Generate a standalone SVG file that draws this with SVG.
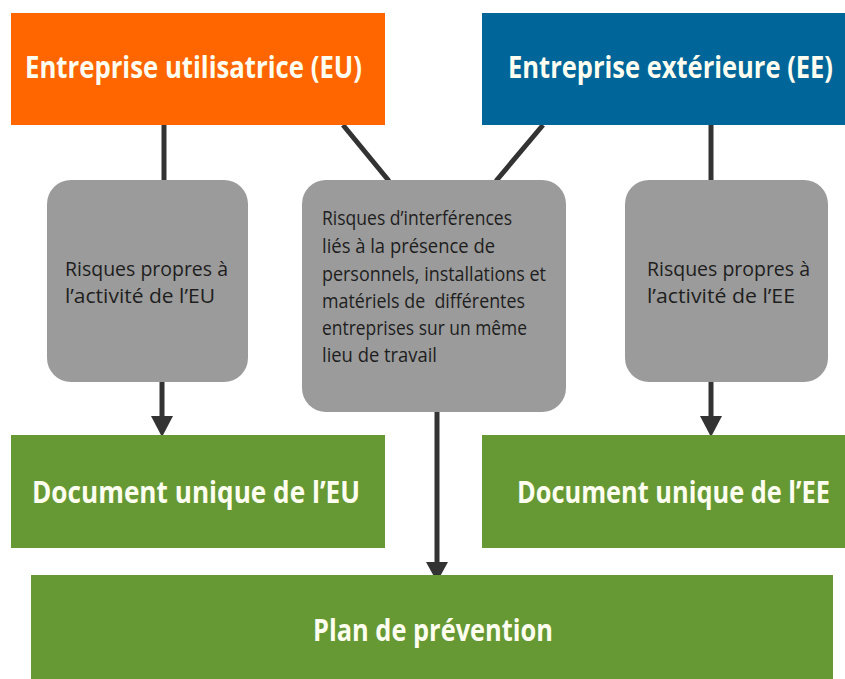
<svg xmlns="http://www.w3.org/2000/svg" width="845" height="679" viewBox="0 0 845 679">
<defs>
<style>
.t{font-family:"Open Sans","DejaVu Sans",sans-serif;font-weight:bold;fill:#fdfdf0;font-size:31px}
.g{font-family:"Open Sans","DejaVu Sans",sans-serif;fill:#1e1e1e;font-size:20.5px}
.ln{stroke:#333;stroke-width:5;fill:none}
</style>
</defs>
<rect width="845" height="679" fill="#ffffff"/>
<g id="connectors">
<line class="ln" x1="164" y1="125" x2="164" y2="182"/>
<line class="ln" x1="343" y1="125" x2="389" y2="181"/>
<line class="ln" x1="543" y1="125" x2="496" y2="181"/>
<line class="ln" x1="711" y1="125" x2="711" y2="182"/>
<path d="M162,382 V416" class="ln"/>
<path d="M151,416 L173,416 L162,437 Z" fill="#333"/>
<path d="M437,412 V562" class="ln"/>
<path d="M426,562 L448,562 L437,582 Z" fill="#333"/>
<path d="M711,382 V416" class="ln"/>
<path d="M700,416 L722,416 L711,437 Z" fill="#333"/>
</g>
<g id="eu">
<rect x="11" y="13" width="374" height="112" fill="#ff6600"/>
<text class="t" x="25" y="78" textLength="337" lengthAdjust="spacingAndGlyphs">Entreprise utilisatrice (EU)</text>
</g>
<g id="ee">
<rect x="482" y="13" width="363" height="112" fill="#006699"/>
<text class="t" x="508" y="78" textLength="325" lengthAdjust="spacingAndGlyphs">Entreprise extérieure (EE)</text>
</g>
<g id="risques-eu">
<rect x="47" y="180" width="201" height="202" rx="24" fill="#9b9b9b"/>
<text class="g" x="65" y="276" textLength="163" lengthAdjust="spacingAndGlyphs">Risques propres à</text>
<text class="g" x="65" y="303" textLength="150" lengthAdjust="spacingAndGlyphs">l’activité de l’EU</text>
</g>
<g id="risques-interferences">
<rect x="302" y="180" width="264" height="232" rx="24" fill="#9b9b9b"/>
<text class="g" x="322" y="225" textLength="190" lengthAdjust="spacingAndGlyphs">Risques d’interférences</text>
<text class="g" x="322" y="253" textLength="173" lengthAdjust="spacingAndGlyphs">liés à la présence de</text>
<text class="g" x="322" y="281" textLength="224" lengthAdjust="spacingAndGlyphs">personnels, installations et</text>
<text class="g" x="322" y="308" textLength="203" lengthAdjust="spacingAndGlyphs" xml:space="preserve">matériels de  différentes</text>
<text class="g" x="322" y="335" textLength="205" lengthAdjust="spacingAndGlyphs">entreprises sur un même</text>
<text class="g" x="322" y="362" textLength="115" lengthAdjust="spacingAndGlyphs">lieu de travail</text>
</g>
<g id="risques-ee">
<rect x="625" y="180" width="203" height="202" rx="24" fill="#9b9b9b"/>
<text class="g" x="647" y="276" textLength="163" lengthAdjust="spacingAndGlyphs">Risques propres à</text>
<text class="g" x="647" y="303" textLength="148" lengthAdjust="spacingAndGlyphs">l’activité de l’EE</text>
</g>
<g id="du-eu">
<rect x="11" y="435" width="374" height="113" fill="#669933"/>
<text class="t" x="32" y="503" textLength="328" lengthAdjust="spacingAndGlyphs">Document unique de l’EU</text>
</g>
<g id="du-ee">
<rect x="482" y="435" width="363" height="113" fill="#669933"/>
<text class="t" x="517" y="503" textLength="313" lengthAdjust="spacingAndGlyphs">Document unique de l’EE</text>
</g>
<g id="plan">
<rect x="31" y="575" width="802" height="104" fill="#669933"/>
<text class="t" x="313" y="641" textLength="240" lengthAdjust="spacingAndGlyphs">Plan de prévention</text>
</g>
</svg>
